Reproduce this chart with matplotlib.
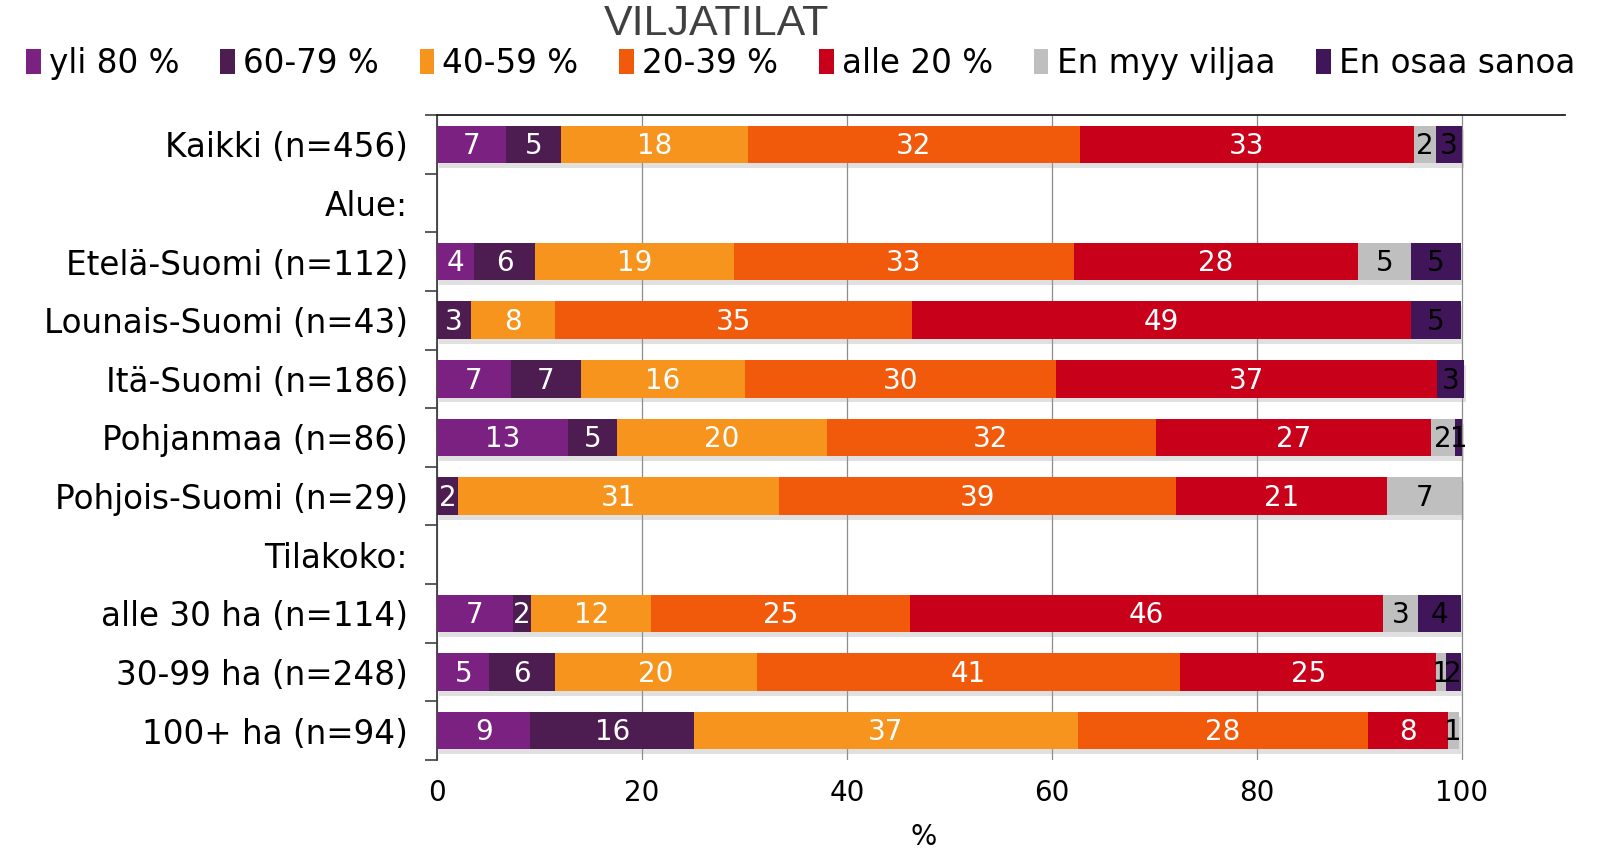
import numpy as np
import matplotlib
matplotlib.use("Agg")
import matplotlib.pyplot as plt
import matplotlib.patheffects as pe
from matplotlib.patches import Patch
from matplotlib.ticker import FixedLocator

# DATA (percent shares)
rows = ["Kaikki (n=456)", "Alue:", "Etelä-Suomi (n=112)", "Lounais-Suomi (n=43)",
        "Itä-Suomi (n=186)", "Pohjanmaa (n=86)", "Pohjois-Suomi (n=29)", "Tilakoko:",
        "alle 30 ha (n=114)", "30-99 ha (n=248)", "100+ ha (n=94)"]
series = ["yli 80 %", "60-79 %", "40-59 %", "20-39 %", "alle 20 %", "En myy viljaa", "En osaa sanoa"]

yli80   = [6.7, 0, 3.6, 0.0, 7.2, 12.8, 0.0, 0, 7.4, 5.1, 9.1]
v60_79  = [5.4, 0, 6.0, 3.3, 6.8, 4.8, 2.0, 0, 1.8, 6.4, 16.0]
v40_59  = [18.2, 0, 19.4, 8.2, 16.0, 20.4, 31.4, 0, 11.7, 19.7, 37.4]
v20_39  = [32.4, 0, 33.1, 34.8, 30.4, 32.1, 38.7, 0, 25.2, 41.3, 28.3]
alle20  = [32.6, 0, 27.8, 48.7, 37.2, 26.9, 20.6, 0, 46.2, 25.0, 7.8]
en_myy  = [2.2, 0, 5.1, 0.0, 0.0, 2.3, 7.3, 0, 3.4, 0.9, 1.1]
en_osaa = [2.5, 0, 4.9, 4.9, 2.6, 0.7, 0.0, 0, 4.2, 1.5, 0.0]

colors = ["#7B2181", "#4D1C50", "#F7941D", "#F15A0B", "#C8001A", "#BFBFBF", "#40155A"]
label_colors = ["white", "white", "white", "white", "white", "black", "black"]

data = [yli80, v60_79, v40_59, v20_39, alle20, en_myy, en_osaa]

fig = plt.figure(figsize=(16.14, 8.56), dpi=100)
ax = fig.add_axes([0.2708, 0.1122, 0.6988, 0.7535])

y = np.arange(len(rows))
left = np.zeros(len(rows))
shadow = [pe.SimplePatchShadow(offset=(1.5, -3.5), shadow_rgbFace="#9a9a9a", alpha=0.3), pe.Normal()]
for name, vals, col, lcol in zip(series, data, colors, label_colors):
    vals = np.array(vals)
    bars = ax.barh(y, vals, left=left, height=0.64, color=col,
                   edgecolor="none", zorder=3)
    for b in bars:
        b.set_path_effects(shadow)
    for yi, (l, v) in enumerate(zip(left, vals)):
        if v > 0:
            ax.text(l + v / 2, yi + 0.03, str(int(v + 0.5)), ha="center", va="center",
                    color=lcol, fontsize=20, zorder=4)
    left = left + vals

ax.set_ylim(len(rows) - 0.5, -0.5)
ax.set_xlim(0, 110.05)
ax.set_yticks(y)
ax.set_yticklabels(rows, fontsize=23.5)
ax.yaxis.set_minor_locator(FixedLocator(np.arange(-0.5, len(rows), 1)))
ax.tick_params(axis="y", which="major", length=0, pad=21)
ax.tick_params(axis="y", which="minor", length=9, width=1.2, direction="out", color="#404040")
ax.set_xticks([0, 20, 40, 60, 80, 100])
ax.set_xticklabels(["0", "20", "40", "60", "80", "100"], fontsize=20)
ax.tick_params(axis="x", length=0, pad=14)
ax.grid(axis="x", color="#8C8C8C", linewidth=0.9, zorder=0)
ax.spines["right"].set_visible(False)
ax.spines["bottom"].set_visible(False)
ax.spines["top"].set_linewidth(1.3)
ax.spines["left"].set_linewidth(1.3)
ax.spines["left"].set_color("#404040")
ax.spines["top"].set_color("#202020")

fig.text(0.5725, 0.006, "%", fontsize=20, ha="center", va="bottom")
fig.text(0.444, 0.972, "VILJATILAT", fontsize=31, ha="center", va="center",
         color="#404040", family="Liberation Sans")

handles = [Patch(facecolor=c, edgecolor="none", label=s) for c, s in zip(colors, series)]
fig.legend(handles=handles, loc="center left", bbox_to_anchor=(0.008, 0.926), ncol=7,
           frameon=False, fontsize=23.5, handlelength=0.45, handleheight=0.8,
           handletextpad=0.25, columnspacing=1.25, borderaxespad=0)

fig.savefig("out.png", dpi=100)
